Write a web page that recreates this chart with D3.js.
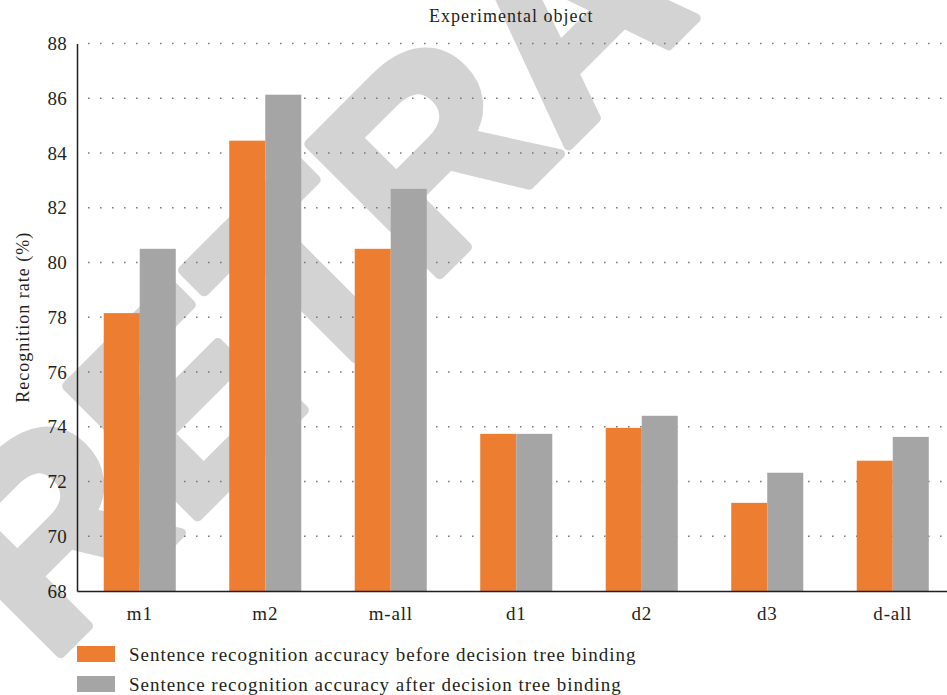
<!DOCTYPE html>
<html>
<head>
<meta charset="utf-8">
<script src="https://cdn.jsdelivr.net/npm/d3@7"></script>
<style>
  html, body { margin: 0; padding: 0; background: #fff; }
  svg { display: block; }
  text { font-family: "Liberation Serif", "DejaVu Serif", serif; fill: #231f20; }
</style>
</head>
<body>
<div id="chart"></div>
<script>
// data
const categories = ['m1', 'm2', 'm-all', 'd1', 'd2', 'd3', 'd-all'];
const beforeValues = [78.15, 84.45, 80.5, 73.74, 73.96, 71.22, 72.76];
const afterValues = [80.5, 86.13, 82.69, 73.74, 74.4, 72.32, 73.63];
const seriesNames = [
  'Sentence recognition accuracy before decision tree binding',
  'Sentence recognition accuracy after decision tree binding',
];
const seriesColors = ['#ed7d31', '#a5a5a5'];
const yTicks = [68, 70, 72, 74, 76, 78, 80, 82, 84, 86, 88];

const width = 947,
  height = 695;
const margin = { top: 43.5, left: 77, bottom: 591 };
const plotRight = 955.5;

const svg = d3
  .select('#chart')
  .append('svg')
  .attr('width', width)
  .attr('height', height);

// watermark, under everything else
svg
  .append('text')
  .attr('transform', 'translate(48,666) rotate(-45)')
  .style('font-family', '"Liberation Sans", Arial, sans-serif')
  .style('font-weight', 'bold')
  .style('font-size', '268px')
  .style('fill', '#d3d3d3')
  .style('stroke', '#d3d3d3')
  .style('stroke-width', '10px')
  .style('stroke-linejoin', 'round')
  .text('RETRACTED');

// scales
const x0 = d3
  .scaleBand()
  .domain(categories)
  .range([margin.left, plotRight])
  .paddingInner(0.426)
  .paddingOuter(0.213);

const x1 = d3
  .scaleBand()
  .domain([0, 1])
  .range([0, x0.bandwidth()]);

const y = d3.scaleLinear().domain([68, 88]).range([margin.bottom, margin.top]);

// dotted grid lines
svg
  .append('g')
  .selectAll('line')
  .data(yTicks.slice(1))
  .join('line')
  .attr('x1', margin.left + 1)
  .attr('x2', plotRight)
  .attr('y1', (d) => y(d))
  .attr('y2', (d) => y(d))
  .attr('stroke', '#7a7a7a')
  .attr('stroke-width', 1.6)
  .attr('stroke-dasharray', '1.6,10.4')
  .attr('stroke-dashoffset', -10);

// bars
const rows = categories.map((c, i) => ({
  category: c,
  values: [beforeValues[i], afterValues[i]],
}));

svg
  .append('g')
  .selectAll('g')
  .data(rows)
  .join('g')
  .attr('transform', (d) => `translate(${x0(d.category)},0)`)
  .selectAll('rect')
  .data((d) => d.values.map((v, k) => ({ k, v })))
  .join('rect')
  .attr('x', (d) => x1(d.k))
  .attr('width', x1.bandwidth())
  .attr('y', (d) => y(d.v))
  .attr('height', (d) => y(68) - y(d.v))
  .attr('fill', (d) => seriesColors[d.k]);

// y axis
const yAxis = svg
  .append('g')
  .attr('transform', `translate(${margin.left},0)`)
  .call(d3.axisLeft(y).tickValues(yTicks).tickSize(0).tickPadding(10));
yAxis.select('.domain').attr('stroke', '#231f20').attr('stroke-width', 1.5);
yAxis
  .selectAll('text')
  .style('font-size', '19px')
  .style('letter-spacing', '0.3px')
  .attr('fill', '#231f20');

// x axis
const xAxis = svg
  .append('g')
  .attr('transform', `translate(0,${margin.bottom})`)
  .call(d3.axisBottom(x0).tickSize(0).tickPadding(16));
xAxis.select('.domain').attr('stroke', '#231f20').attr('stroke-width', 1.5);
xAxis
  .selectAll('text')
  .style('font-size', '19px')
  .style('letter-spacing', '0.8px')
  .attr('fill', '#231f20');

// titles
svg
  .append('text')
  .attr('x', (margin.left + plotRight) / 2 - 5)
  .attr('y', 22)
  .attr('text-anchor', 'middle')
  .style('font-size', '18px')
  .style('letter-spacing', '1px')
  .text('Experimental object');

svg
  .append('text')
  .attr('transform', `translate(29,${(margin.top + margin.bottom) / 2}) rotate(-90)`)
  .attr('text-anchor', 'middle')
  .style('font-size', '18px')
  .style('letter-spacing', '1px')
  .text('Recognition rate (%)');

// legend
const legend = svg
  .append('g')
  .selectAll('g')
  .data(seriesNames)
  .join('g')
  .attr('transform', (d, i) => `translate(77,${646 + i * 30})`);

legend
  .append('rect')
  .attr('width', 38)
  .attr('height', 16)
  .attr('fill', (d, i) => seriesColors[i]);

legend
  .append('text')
  .attr('x', 52)
  .attr('y', 15)
  .style('font-size', '19px')
  .style('letter-spacing', '1px')
  .text((d) => d);
</script>
</body>
</html>
